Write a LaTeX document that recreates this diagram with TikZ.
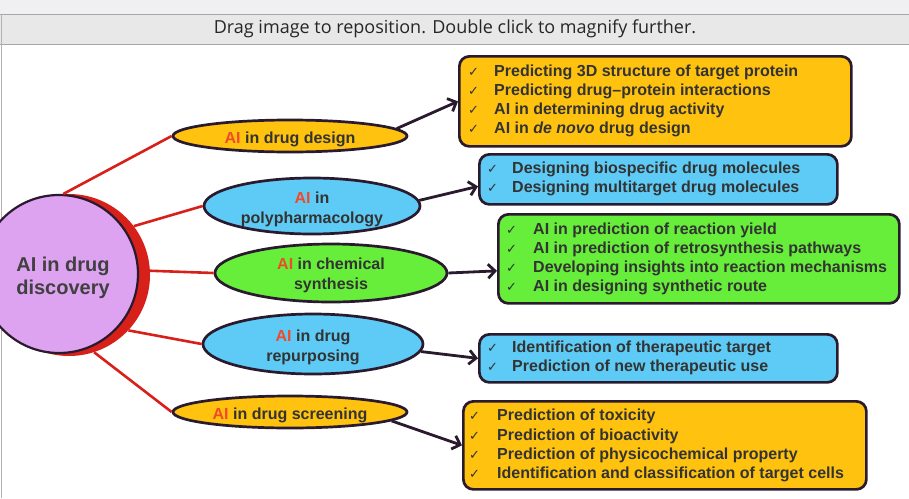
\documentclass[tikz,border=0pt]{standalone}
\usepackage{fontspec}
\setmainfont{Liberation Sans}
\newfontfamily\barfont{Open Sans}
\newfontfamily\symfont{DejaVu Sans}
\usetikzlibrary{arrows.meta,shapes.geometric,calc}
\definecolor{dyel}{HTML}{FFC20E}
\definecolor{dblue}{HTML}{5DCBF5}
\definecolor{dgreen}{HTML}{66EE3A}
\definecolor{dpurp}{HTML}{DDA2F0}
\definecolor{dred}{HTML}{D8201A}
\definecolor{dline}{HTML}{2A1A2E}
\definecolor{dtext}{HTML}{333333}
\definecolor{aired}{HTML}{F04A2A}
\definecolor{barbg}{HTML}{E8E8E8}
\definecolor{topbg}{HTML}{F0F0F3}
\tikzset{
  ell/.style={ellipse, draw=dline, line width=2.7pt, inner sep=0pt},
  elltext/.style={inner sep=0pt, align=center, font=\bfseries\fontsize{16}{20}\selectfont, text=dtext},
  infobox/.style={draw=dline, line width=2.7pt, rounded corners=10pt, anchor=north west, inner sep=0pt},
  item/.style={anchor=west, inner sep=0pt, text height=11pt, text depth=3pt,
    font=\bfseries\fontsize{16}{19}\selectfont, text=dtext},
  chk/.style={anchor=west, inner sep=0pt, font=\symfont\fontsize{13}{13}\selectfont, text=dtext},
  link/.style={dred, line width=2.6pt},
  arr/.style={dline, line width=2.8pt, -{Straight Barb[length=7pt,width=14pt]}},
}
\begin{document}
\begin{tikzpicture}[x=1pt,y=-1pt]
\useasboundingbox (0,0) rectangle (909,498);
% browser bar
\fill[topbg] (0,0) rectangle (909,14);
\fill[barbg] (0,14) rectangle (909,44);
\draw[gray!70, line width=0.8pt] (0,14) -- (909,14);
\draw[gray!70, line width=0.8pt] (0,44) -- (909,44);
\draw[gray!60, line width=1pt] (1.5,14) -- (1.5,498);
\node[font=\barfont\fontsize{18}{20}\selectfont, text=black!85, inner sep=0pt] (bar) at (455,29) {Drag image to reposition. Double click to magnify further.};

% central circle with red shadow
\node[circle, fill=dred, minimum size=162pt, inner sep=0pt] (cs) at (69,275) {};
\node[circle, fill=dpurp, draw=dline, line width=2.2pt, minimum size=158pt, inner sep=0pt] (c) at (59,274) {};
\node[align=center, font=\bfseries\fontsize{20}{23}\selectfont, text=black!75, inner sep=0pt] (ct) at (63,278) {AI in drug\\discovery};

% branches
\node[ell, fill=dyel, minimum width=234pt, minimum height=32pt] (e1) at (290,136) {};
\node[ell, fill=dblue, minimum width=216pt, minimum height=56pt] (e2) at (312,206) {};
\node[ell, fill=dgreen, minimum width=232pt, minimum height=58pt] (e3) at (331,273) {};
\node[ell, fill=dblue, minimum width=220pt, minimum height=60pt] (e4) at (313,344) {};
\node[ell, fill=dyel, minimum width=234pt, minimum height=32pt] (e5) at (290,412) {};
\node[elltext] (e1t) at ($(e1)+(0,3)$) {\textcolor{aired}{AI} in drug design};
\node[elltext] (e2t) at ($(e2)+(0,3)$) {\textcolor{aired}{AI} in\\polypharmacology};
\node[elltext] (e3t) at ($(e3)+(0,2)$) {\textcolor{aired}{AI} in chemical\\synthesis};
\node[elltext] (e4t) at ($(e4)+(0,3)$) {\textcolor{aired}{AI} in drug\\repurposing};
\node[elltext] (e5t) at ($(e5)+(0,3)$) {\textcolor{aired}{AI} in drug screening};

\draw[link] (c.87) -- (e1.west);
\draw[link] (cs.37) -- (e2.west);
\draw[link] (cs.3) -- (e3.west);
\draw[link] (cs.-43) -- (e4.west);
\draw[link] (cs.-72) -- (e5.west);

% boxes
\node[infobox, fill=dyel, minimum width=392pt, minimum height=90pt] (b1) at (458,55) {};
\node[infobox, fill=dblue, minimum width=358pt, minimum height=50pt] (b2) at (478,153) {};
\node[infobox, fill=dgreen, minimum width=401pt, minimum height=89pt] (b3) at (497,213) {};
\node[infobox, fill=dblue, minimum width=358pt, minimum height=48pt] (b4) at (478,333) {};
\node[infobox, fill=dyel, minimum width=403pt, minimum height=88pt] (b5) at (462,400) {};

% box 1 items
\node[chk] (k1a) at (468,72) {✓}; \node[item] (t1a) at (494,72) {Predicting 3D structure of target protein};
\node[chk] (k1b) at (468,91) {✓}; \node[item] (t1b) at (494,91) {Predicting drug–protein interactions};
\node[chk] (k1c) at (468,110) {✓}; \node[item] (t1c) at (494,110) {AI in determining drug activity};
\node[chk] (k1d) at (468,129) {✓}; \node[item] (t1d) at (494,129) {AI in \textit{de novo} drug design};
% box 2 items
\node[chk] (k2a) at (487,169) {✓}; \node[item] (t2a) at (512,169) {Designing biospecific drug molecules};
\node[chk] (k2b) at (487,188) {✓}; \node[item] (t2b) at (512,188) {Designing multitarget drug molecules};
% box 3 items
\node[chk] (k3a) at (506,230) {✓}; \node[item] (t3a) at (533,230) {AI in prediction of reaction yield};
\node[chk] (k3b) at (506,249) {✓}; \node[item] (t3b) at (533,249) {AI in prediction of retrosynthesis pathways};
\node[chk] (k3c) at (506,268) {✓}; \node[item] (t3c) at (533,268) {Developing insights into reaction mechanisms};
\node[chk] (k3d) at (506,287) {✓}; \node[item] (t3d) at (533,287) {AI in designing synthetic route};
% box 4 items
\node[chk] (k4a) at (487,348) {✓}; \node[item] (t4a) at (512,348) {Identification of therapeutic target};
\node[chk] (k4b) at (487,367) {✓}; \node[item] (t4b) at (512,367) {Prediction of new therapeutic use};
% box 5 items
\node[chk] (k5a) at (469,416) {✓}; \node[item] (t5a) at (497,416) {Prediction of toxicity};
\node[chk] (k5b) at (469,436) {✓}; \node[item] (t5b) at (497,436) {Prediction of bioactivity};
\node[chk] (k5c) at (469,455) {✓}; \node[item] (t5c) at (497,455) {Prediction of physicochemical property};
\node[chk] (k5d) at (469,474) {✓}; \node[item] (t5d) at (497,474) {Identification and classification of target cells};

% arrows
\draw[arr] (e1.4) -- (b1.west);
\draw[arr] (e2.3) -- ($(b2.west)+(0,7)$);
\draw[arr] (e3.east) -- ($(b3.west)+(0,12)$);
\draw[arr] (e4.-4) -- (b4.west);
\draw[arr] (e5.-5) -- (b5.west);
\end{tikzpicture}
\end{document}
